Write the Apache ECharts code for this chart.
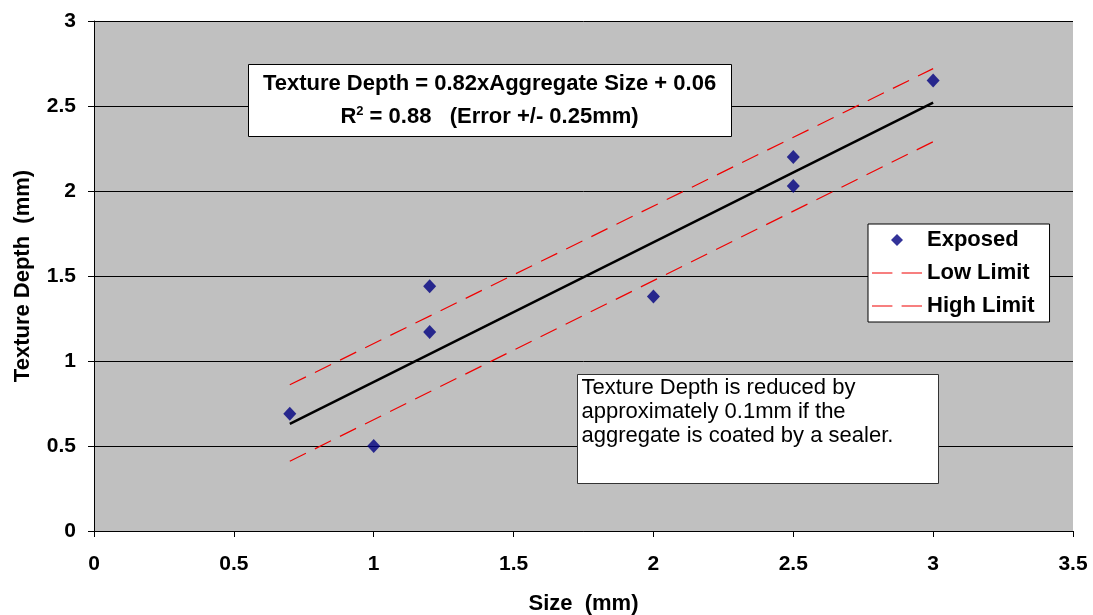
<!DOCTYPE html>
<html>
<head>
<meta charset="utf-8">
<script src="https://cdn.jsdelivr.net/npm/echarts@6/dist/echarts.min.js"></script>
<style>
  html, body { margin: 0; padding: 0; background: #fff; }
  #main { width: 1093px; height: 615px; }
</style>
</head>
<body>
<div id="main"></div>
<script>
// measured points (Size mm, Texture Depth mm)
var exposed = [
  [0.7, 0.69], [1.0, 0.50], [1.2, 1.44], [1.2, 1.17],
  [2.0, 1.38], [2.5, 2.20], [2.5, 2.03], [3.0, 2.65]
];
// line end points
var trendLine = [[0.7, 0.63], [3.0, 2.52]];
var lowLimit = [[0.7, 0.86], [3.0, 2.72]];
var highLimit = [[0.7, 0.41], [3.0, 2.29]];

var xTicks = { min: 0, max: 3.5, interval: 0.5 };
var yTicks = { min: 0, max: 3, interval: 0.5 };

var font = 'Liberation Sans, Arial, sans-serif';
var diamondIcon = 'path://M6,0L12,6L6,12L0,6Z';
var dashIcon = 'path://M0,0H20V1.2H0ZM29,0H49V1.2H29Z';

var chart = echarts.init(document.getElementById('main'));

var option = {
  animation: false,
  textStyle: { fontFamily: font },
  grid: {
    left: 94, right: 20, top: 21, bottom: 84,
    outerBoundsMode: 'none',
    containLabel: false,
    show: true,
    backgroundColor: '#C0C0C0',
    borderWidth: 0
  },
  xAxis: {
    type: 'value',
    min: xTicks.min, max: xTicks.max, interval: xTicks.interval,
    name: 'Size  (mm)',
    nameLocation: 'middle',
    nameGap: 62,
    nameTextStyle: { color: '#000', fontWeight: 'bold', fontSize: 22, fontFamily: font },
    axisLine: { show: true, lineStyle: { color: '#000', width: 1 } },
    axisTick: { show: true, length: 6, lineStyle: { color: '#000' } },
    axisLabel: { color: '#000', fontWeight: 'bold', fontSize: 21, margin: 23, fontFamily: font },
    splitLine: { show: false }
  },
  yAxis: {
    type: 'value',
    min: yTicks.min, max: yTicks.max, interval: yTicks.interval,
    name: 'Texture Depth  (mm)',
    nameLocation: 'middle',
    nameGap: 60,
    nameRotate: 90,
    nameTextStyle: { color: '#000', fontWeight: 'bold', fontSize: 22, fontFamily: font },
    axisLine: { show: true, lineStyle: { color: '#000', width: 1 } },
    axisTick: { show: true, length: 6, lineStyle: { color: '#000' } },
    axisLabel: { color: '#000', fontWeight: 'bold', fontSize: 21, margin: 18, fontFamily: font },
    splitLine: { show: true, lineStyle: { color: '#000', width: 1 } }
  },
  legend: {
    orient: 'vertical',
    left: 868,
    top: 224,
    padding: [5, 15, 5, 4],
    itemGap: 11,
    itemWidth: 50,
    itemHeight: 12,
    symbolKeepAspect: true,
    backgroundColor: '#fff',
    borderColor: '#000',
    borderWidth: 1,
    borderRadius: 0,
    textStyle: { color: '#000', fontWeight: 'bold', fontSize: 22, lineHeight: 22, fontFamily: font },
    data: [
      { name: 'Exposed', icon: diamondIcon },
      { name: 'Low Limit', icon: dashIcon },
      { name: 'High Limit', icon: dashIcon }
    ]
  },
  series: [
    {
      name: 'Trend',
      type: 'line',
      data: trendLine,
      symbol: 'none',
      lineStyle: { color: '#000', width: 2.5 },
      z: 3
    },
    {
      name: 'Low Limit',
      type: 'line',
      data: lowLimit,
      symbol: 'none',
      itemStyle: { color: '#F00000' },
      lineStyle: { color: '#F00000', width: 1.2, type: [18, 10] },
      z: 2
    },
    {
      name: 'High Limit',
      type: 'line',
      data: highLimit,
      symbol: 'none',
      itemStyle: { color: '#F00000' },
      lineStyle: { color: '#F00000', width: 1.2, type: [18, 10] },
      z: 2
    },
    {
      name: 'Exposed',
      type: 'scatter',
      data: exposed,
      symbol: 'diamond',
      symbolSize: [13, 14],
      itemStyle: { color: '#000080' },
      z: 5
    }
  ],
  graphic: [
    {
      type: 'group',
      left: 248,
      top: 64,
      z: 100,
      children: [
        {
          type: 'rect',
          z: 100,
          shape: { x: 0, y: 0, width: 483, height: 72 },
          style: { fill: '#fff', stroke: '#000', lineWidth: 1 }
        },
        {
          type: 'text',
          z: 101,
          x: 241, y: 19,
          style: {
            text: 'Texture Depth = 0.82xAggregate Size + 0.06',
            fill: '#000', font: 'bold 22px ' + font,
            align: 'center', verticalAlign: 'middle'
          }
        },
        {
          type: 'text',
          z: 101,
          x: 241, y: 52,
          style: {
            text: '{b|R}{s|2}{b| = 0.88   (Error +/- 0.25mm)}',
            align: 'center', verticalAlign: 'middle',
            rich: {
              b: { color: '#000', fontWeight: 'bold', fontSize: 22, fontFamily: font },
              s: { color: '#000', fontSize: 13, fontFamily: font, fontWeight: 'bold', padding: [0, 0, 10, 0] }
            }
          }
        }
      ]
    },
    {
      type: 'group',
      left: 577,
      top: 374,
      z: 100,
      children: [
        {
          type: 'rect',
          z: 100,
          shape: { x: 0, y: 0, width: 361, height: 109 },
          style: { fill: '#fff', stroke: '#333', lineWidth: 1 }
        },
        {
          type: 'text',
          z: 101,
          x: 4, y: 1,
          style: {
            text: 'Texture Depth is reduced by\napproximately 0.1mm if the\naggregate is coated by a sealer.',
            fill: '#000', font: '22px ' + font, lineHeight: 24,
            align: 'left', verticalAlign: 'top'
          }
        }
      ]
    }
  ]
};

chart.setOption(option);
</script>
</body>
</html>
